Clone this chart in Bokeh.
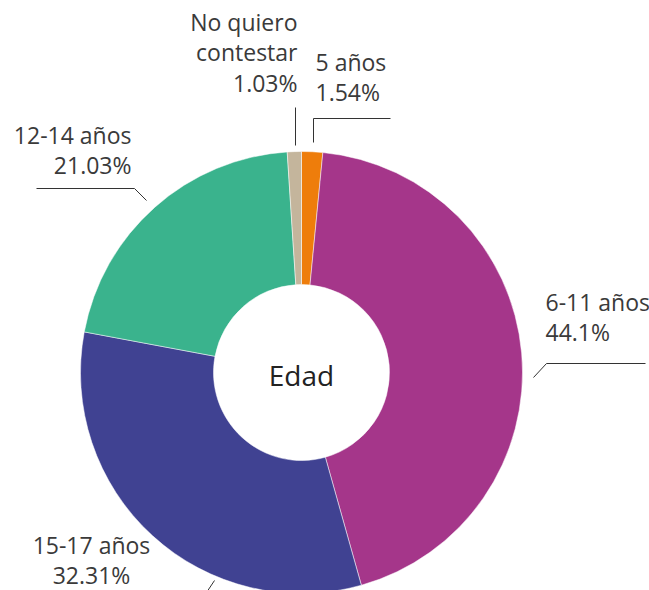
from bokeh.plotting import figure
from bokeh.models import ColumnDataSource, Range1d
from bokeh.core.properties import value
from bokeh.embed import file_html
from bokeh.resources import INLINE
import math

categories = ["5 años", "6-11 años", "15-17 años", "12-14 años", "No quiero contestar"]
percents = [1.54, 44.1, 32.31, 21.03, 1.03]
colors = ["#EE7D0B", "#A5368A", "#404292", "#3AB38D", "#C4B59C"]
label_texts = ["5 años\n1.54%", "6-11 años\n44.1%", "15-17 años\n32.31%", "12-14 años\n21.03%", "No quiero\ncontestar\n1.03%"]

W, H = 649, 590
def X(sx): return sx
def Y(sy): return H - sy

total = sum(percents)
starts, ends = [], []
cum = 0.0
for v in percents:
    starts.append(math.pi / 2 - cum / total * 2 * math.pi)
    cum += v
    ends.append(math.pi / 2 - cum / total * 2 * math.pi)

src = ColumnDataSource(dict(cat=categories, val=percents, color=colors, start=starts, end=ends))

p = figure(width=W, height=H, output_backend="svg", toolbar_location=None,
           x_range=Range1d(0, W), y_range=Range1d(0, H), min_border=0)
p.axis.visible = False
p.grid.visible = False
p.outline_line_color = None
p.background_fill_color = "white"

cx, cy = X(301), Y(372)
p.annular_wedge(x=cx, y=cy, inner_radius=88, outer_radius=221, start_angle="start", end_angle="end",
                direction="clock", color="color", line_color="white", line_width=0.5, source=src,
                inner_radius_units="screen", outer_radius_units="screen")

font = value("Open Sans")
tc = "#3a3a3a"
p.text(x=[cx], y=[cy - 2], text=["Edad"], text_font=font, text_font_size="28px", text_color="#222222",
       text_align="center", text_baseline="middle")

lab_pos = [(315, 45, "left"), (545, 285, "left"), (91, 528, "center"), (131, 118, "right"), (297, 5, "right")]
for t, (sx, sy, al) in zip(label_texts, lab_pos):
    p.text(x=[X(sx)], y=[Y(sy)], text=[t], text_font=font, text_font_size="23px", text_color=tc,
           text_align=al, text_baseline="top", text_line_height=0.96)

lc = "#333333"
p.line(x=[X(313), X(313), X(390)], y=[Y(142), Y(118), Y(118)], line_color=lc, line_width=1)
p.line(x=[X(295), X(295)], y=[Y(145), Y(107)], line_color=lc, line_width=1)
p.line(x=[X(146), X(134), X(36)], y=[Y(200), Y(188), Y(188)], line_color=lc, line_width=1)
p.line(x=[X(533), X(546), X(645)], y=[Y(377), Y(363), Y(363)], line_color=lc, line_width=1)
p.line(x=[X(214), X(204)], y=[Y(580), Y(595)], line_color=lc, line_width=1)

open("out.html", "w").write(file_html(p, INLINE))
